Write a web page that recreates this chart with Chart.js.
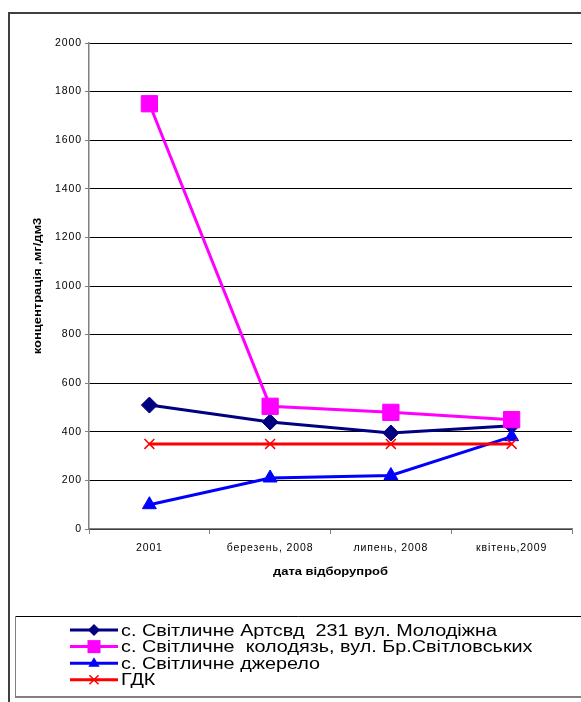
<!DOCTYPE html>
<html>
<head>
<meta charset="utf-8">
<script src="https://cdn.jsdelivr.net/npm/chart.js@4/dist/chart.umd.min.js"></script>
<style>
  html, body { margin: 0; padding: 0; background: #fff; }
  #wrap { width: 581px; height: 702px; position: relative; }
</style>
</head>
<body>
<div id="wrap"><canvas id="c" width="581" height="702"></canvas></div>
<script>
// Sampling dates and measured concentrations, mg/dm3
const categories = ['2001', 'березень, 2008', 'липень, 2008', 'квітень,2009'];
const artesian = [510, 440, 395, 425];
const well = [1750, 505, 480, 450];
const spring = [100, 210, 220, 380];
const limit = [350, 350, 350, 350];
const seriesNames = [
  'с. Світличне Артсвд  231 вул. Молодіжна',
  'с. Світличне  колодязь, вул. Бр.Світловських',
  'с. Світличне джерело',
  'ГДК'
];
const yTicks = [0, 200, 400, 600, 800, 1000, 1200, 1400, 1600, 1800, 2000];
const yTitle = 'концентрація ,мг/дм3';
const xTitle = 'дата відборупроб';

const FONT = '"Liberation Sans", Arial, sans-serif';
const TEXT_STRETCH = 1.18;   // wide text rendering used for titles
const LEGEND_STRETCH = 1.2;

const styles = [
  { color: '#000080', pointStyle: 'rectRot', radius: 8 },
  { color: '#FF00FF', pointStyle: 'rect', radius: 11.5 },
  { color: '#0000FF', pointStyle: 'triangle', radius: 8 },
  { color: '#FF0000', pointStyle: 'crossRot', radius: 7 }
];

const seriesData = [artesian, well, spring, limit];

const datasets = seriesData.map((d, i) => ({
  label: seriesNames[i],
  data: d,
  borderColor: styles[i].color,
  backgroundColor: styles[i].color,
  pointBackgroundColor: styles[i].color,
  pointBorderColor: styles[i].color,
  pointStyle: styles[i].pointStyle,
  pointRadius: styles[i].radius,
  pointBorderWidth: styles[i].pointStyle === 'crossRot' ? 1.5 : 1,
  borderWidth: 3,
  tension: 0,
  fill: false,
  clip: false,
  order: 3 - i
}));

// marker painter for the legend samples
function drawMarker(ctx, style, x, y, r) {
  ctx.save();
  ctx.fillStyle = style.color;
  ctx.strokeStyle = style.color;
  ctx.beginPath();
  if (style.pointStyle === 'rectRot') {
    ctx.moveTo(x, y - r); ctx.lineTo(x + r, y); ctx.lineTo(x, y + r); ctx.lineTo(x - r, y);
    ctx.closePath(); ctx.fill();
  } else if (style.pointStyle === 'rect') {
    ctx.rect(x - r, y - r, 2 * r, 2 * r); ctx.fill();
  } else if (style.pointStyle === 'triangle') {
    ctx.moveTo(x, y - r); ctx.lineTo(x + r * 0.95, y + r * 0.6); ctx.lineTo(x - r * 0.95, y + r * 0.6);
    ctx.closePath(); ctx.fill();
  } else {
    ctx.lineWidth = 1.5;
    ctx.moveTo(x - r, y - r); ctx.lineTo(x + r, y + r);
    ctx.moveTo(x + r, y - r); ctx.lineTo(x - r, y + r);
    ctx.stroke();
  }
  ctx.restore();
}

// text drawn with a horizontal stretch
function wideText(ctx, text, x, y, align, sx) {
  ctx.save();
  ctx.translate(x, y);
  ctx.scale(sx, 1);
  ctx.textAlign = align;
  ctx.fillText(text, 0, 0);
  ctx.restore();
}

const framePlugin = {
  id: 'frame',
  beforeDraw(chart) {
    const ctx = chart.ctx;
    ctx.save();
    ctx.fillStyle = '#fff';
    ctx.fillRect(0, 0, chart.width, chart.height);
    // outer border of the chart object
    ctx.strokeStyle = '#404040';
    ctx.lineWidth = 2;
    ctx.beginPath();
    ctx.moveTo(9, 702); ctx.lineTo(9, 13); ctx.lineTo(581, 13);
    ctx.stroke();
    ctx.restore();
    // tick labels are drawn with a little extra tracking
    ctx.letterSpacing = '0.9px';
  },
  beforeDatasetsDraw(chart) {
    chart.ctx.letterSpacing = '0px';
  },
  afterDraw(chart) {
    const ctx = chart.ctx;
    const area = chart.chartArea;
    ctx.save();
    ctx.letterSpacing = '0px';
    // axis titles
    ctx.fillStyle = '#000';
    ctx.font = 'bold 11px ' + FONT;
    ctx.textBaseline = 'middle';
    wideText(ctx, xTitle, (area.left + area.right) / 2, 572, 'center', TEXT_STRETCH);
    ctx.save();
    ctx.translate(38, (area.top + area.bottom) / 2);
    ctx.rotate(-Math.PI / 2);
    wideText(ctx, yTitle, 0, 0, 'center', TEXT_STRETCH);
    ctx.restore();

    // legend box
    ctx.lineWidth = 1;
    ctx.strokeStyle = '#000';
    ctx.beginPath();
    ctx.moveTo(581, 616.5); ctx.lineTo(15.5, 616.5);
    ctx.stroke();
    ctx.strokeStyle = '#808080';
    ctx.beginPath();
    ctx.moveTo(15.5, 616.5); ctx.lineTo(15.5, 697);
    ctx.stroke();
    ctx.lineWidth = 2;
    ctx.beginPath();
    ctx.moveTo(15, 697); ctx.lineTo(581, 697);
    ctx.stroke();

    // legend entries
    ctx.font = '16.5px ' + FONT;
    ctx.textBaseline = 'middle';
    chart.data.datasets.forEach((ds, i) => {
      const y = 630 + i * 16.6;
      const st = styles[i];
      ctx.strokeStyle = st.color;
      ctx.lineWidth = 3;
      ctx.beginPath();
      ctx.moveTo(70, y); ctx.lineTo(118, y);
      ctx.stroke();
      const r = st.pointStyle === 'rect' ? 6.5 : (st.pointStyle === 'crossRot' ? 4.5 : 6);
      drawMarker(ctx, st, 94, y, r);
      ctx.fillStyle = '#000';
      wideText(ctx, ds.label, 121, y + 1, 'left', LEGEND_STRETCH);
    });
    ctx.restore();
  }
};

new Chart(document.getElementById('c'), {
  type: 'line',
  data: { labels: categories, datasets },
  options: {
    responsive: false,
    devicePixelRatio: 1,
    animation: false,
    layout: { autoPadding: false, padding: { left: 0, top: 43, right: 9, bottom: 0 } },
    plugins: {
      legend: { display: false },
      tooltip: { enabled: false }
    },
    scales: {
      x: {
        type: 'category',
        offset: true,
        grid: {
          offset: true,
          drawOnChartArea: false,
          color: '#808080',
          tickLength: 5,
          lineWidth: 1
        },
        border: { color: '#808080', width: 1.5 },
        ticks: {
          color: '#000',
          font: { family: FONT, size: 10.5 },
          padding: 8,
          maxRotation: 0,
          autoSkip: false
        },
        afterFit(scale) {
          scale.height = 173;
          scale.paddingLeft = 0;
          scale.paddingRight = 0;
        }
      },
      y: {
        min: 0,
        max: 2000,
        afterBuildTicks(scale) { scale.ticks = yTicks.map(v => ({ value: v })); },
        grid: {
          color: '#000',
          tickColor: '#808080',
          tickLength: 4,
          lineWidth: 1
        },
        border: { color: '#808080', width: 1.5 },
        ticks: {
          color: '#000',
          font: { family: FONT, size: 10.5 },
          padding: 3,
          callback: (v) => String(v)
        },
        afterFit(scale) {
          scale.width = 89;
          scale.paddingTop = 0;
          scale.paddingBottom = 0;
        }
      }
    }
  },
  plugins: [framePlugin]
});
</script>
</body>
</html>
